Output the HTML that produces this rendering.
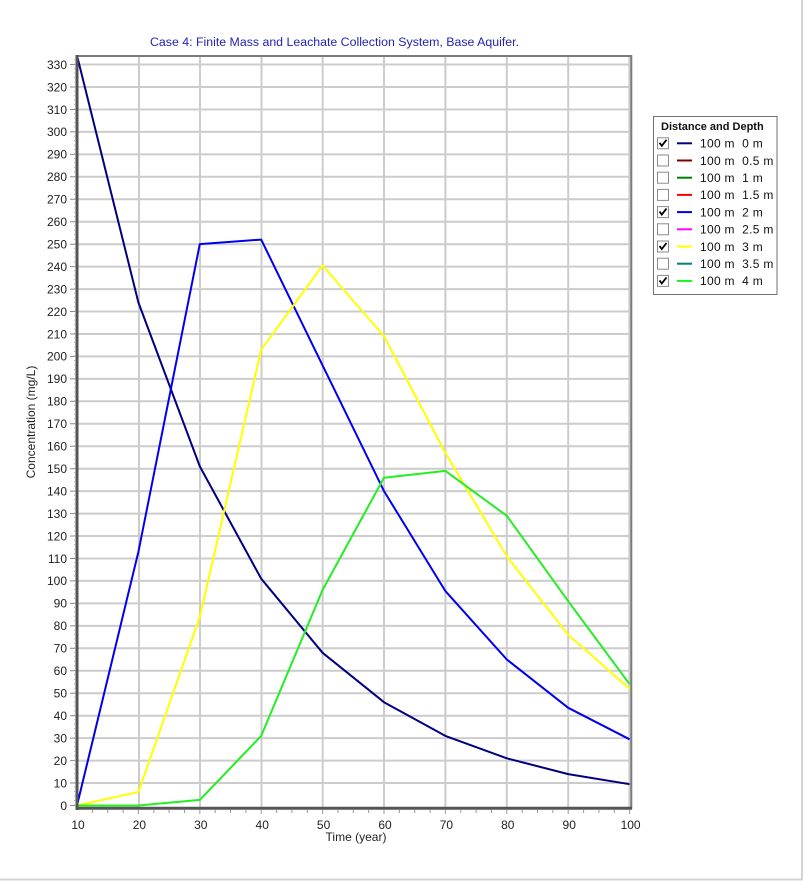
<!DOCTYPE html>
<html><head><meta charset="utf-8"><style>
html,body{margin:0;padding:0;background:#fff;}
svg{display:block;}
text{font-family:"Liberation Sans",Arial,sans-serif;}
</style></head><body>
<svg width="804" height="881" viewBox="0 0 804 881" xmlns="http://www.w3.org/2000/svg">
<rect x="0" y="0" width="804" height="881" fill="#fff"/>
<line x1="802" y1="0" x2="802" y2="880" stroke="#d4d4d4" stroke-width="2"/>
<line x1="0" y1="879.5" x2="803" y2="879.5" stroke="#d4d4d4" stroke-width="2"/>

<text x="150" y="46" font-size="11.5" fill="#2323b4" textLength="369" lengthAdjust="spacingAndGlyphs">Case 4: Finite Mass and Leachate Collection System, Base Aquifer.</text>

<g stroke="#cccccc" stroke-width="2">
<line x1="77" y1="783.0" x2="630" y2="783.0"/>
<line x1="77" y1="760.6" x2="630" y2="760.6"/>
<line x1="77" y1="738.1" x2="630" y2="738.1"/>
<line x1="77" y1="715.7" x2="630" y2="715.7"/>
<line x1="77" y1="693.2" x2="630" y2="693.2"/>
<line x1="77" y1="670.8" x2="630" y2="670.8"/>
<line x1="77" y1="648.3" x2="630" y2="648.3"/>
<line x1="77" y1="625.9" x2="630" y2="625.9"/>
<line x1="77" y1="603.4" x2="630" y2="603.4"/>
<line x1="77" y1="580.9" x2="630" y2="580.9"/>
<line x1="77" y1="558.5" x2="630" y2="558.5"/>
<line x1="77" y1="536.0" x2="630" y2="536.0"/>
<line x1="77" y1="513.6" x2="630" y2="513.6"/>
<line x1="77" y1="491.1" x2="630" y2="491.1"/>
<line x1="77" y1="468.7" x2="630" y2="468.7"/>
<line x1="77" y1="446.2" x2="630" y2="446.2"/>
<line x1="77" y1="423.8" x2="630" y2="423.8"/>
<line x1="77" y1="401.3" x2="630" y2="401.3"/>
<line x1="77" y1="378.9" x2="630" y2="378.9"/>
<line x1="77" y1="356.4" x2="630" y2="356.4"/>
<line x1="77" y1="334.0" x2="630" y2="334.0"/>
<line x1="77" y1="311.5" x2="630" y2="311.5"/>
<line x1="77" y1="289.1" x2="630" y2="289.1"/>
<line x1="77" y1="266.6" x2="630" y2="266.6"/>
<line x1="77" y1="244.2" x2="630" y2="244.2"/>
<line x1="77" y1="221.7" x2="630" y2="221.7"/>
<line x1="77" y1="199.3" x2="630" y2="199.3"/>
<line x1="77" y1="176.8" x2="630" y2="176.8"/>
<line x1="77" y1="154.4" x2="630" y2="154.4"/>
<line x1="77" y1="131.9" x2="630" y2="131.9"/>
<line x1="77" y1="109.5" x2="630" y2="109.5"/>
<line x1="77" y1="87.0" x2="630" y2="87.0"/>
<line x1="77" y1="64.5" x2="630" y2="64.5"/>
<line x1="139" y1="56" x2="139" y2="808"/>
<line x1="200" y1="56" x2="200" y2="808"/>
<line x1="261.5" y1="56" x2="261.5" y2="808"/>
<line x1="322.7" y1="56" x2="322.7" y2="808"/>
<line x1="384" y1="56" x2="384" y2="808"/>
<line x1="445.4" y1="56" x2="445.4" y2="808"/>
<line x1="506.8" y1="56" x2="506.8" y2="808"/>
<line x1="568.2" y1="56" x2="568.2" y2="808"/>
<line x1="629.4" y1="56" x2="629.4" y2="808"/>
</g>

<line x1="76" y1="56" x2="632" y2="56" stroke="#7a7a7a" stroke-width="2"/>
<line x1="631.3" y1="55" x2="631.3" y2="809" stroke="#7a7a7a" stroke-width="2"/>

<g fill="none" stroke-width="2" stroke-linejoin="round">
<polyline stroke="#000080" points="77,55.5 138.4,302.5 199.8,466.4 261.2,578.7 322.6,652.8 384,702.2 445.4,735.9 506.8,758.3 568.2,774.1 629.6,784.2"/>
<polyline stroke="#0000ee" points="77,805.5 138.4,551.8 199.8,244.1 261.2,239.6 322.6,365.4 384,491.1 445.4,591.1 506.8,659.5 568.2,707.8 629.6,739.3"/>
<polyline stroke="#ffff00" points="77,805.5 138.4,792 199.8,616.9 261.2,349.7 322.6,265.5 384,336.2 445.4,453 506.8,556.3 568.2,634.8 629.6,688.7"/>
<polyline stroke="#22ee22" points="77,805.5 138.4,805.5 199.8,799.9 261.2,735.9 322.6,589.9 384,477.7 445.4,470.9 506.8,515.8 568.2,601.2 629.6,684.2"/>
</g>

<line x1="77" y1="55" x2="77" y2="810" stroke="#555555" stroke-width="3"/>
<line x1="75.5" y1="808.3" x2="632" y2="808.3" stroke="#555555" stroke-width="3"/>

<g stroke="#888" stroke-width="1">
<path d="M70 805.5H76M70 783H76M70 760.6H76M70 738.1H76M70 715.7H76M70 693.2H76M70 670.8H76M70 648.3H76M70 625.9H76M70 603.4H76M70 580.9H76M70 558.5H76M70 536H76M70 513.6H76M70 491.1H76M70 468.7H76M70 446.2H76M70 423.8H76M70 401.3H76M70 378.9H76M70 356.4H76M70 334H76M70 311.5H76M70 289.1H76M70 266.6H76M70 244.2H76M70 221.7H76M70 199.3H76M70 176.8H76M70 154.4H76M70 131.9H76M70 109.5H76M70 87H76M70 64.5H76"/>
</g>
<g stroke="#aaa" stroke-width="1" stroke-dasharray="1 3.49">
<line x1="74.5" y1="805.5" x2="74.5" y2="56"/>
</g>
<g stroke="#999" stroke-width="1">
<path d="M92.4 810V813M107.7 810V813M123.1 810V813M138.4 810V814M153.8 810V813M169.1 810V813M184.5 810V813M199.8 810V814M215.2 810V813M230.5 810V813M245.9 810V813M261.2 810V814M276.6 810V813M291.9 810V813M307.3 810V813M322.6 810V814M338 810V813M353.3 810V813M368.7 810V813M384 810V814M399.4 810V813M414.7 810V813M430.1 810V813M445.4 810V814M460.8 810V813M476.1 810V813M491.5 810V813M506.8 810V814M522.2 810V813M537.5 810V813M552.9 810V813M568.2 810V814M583.6 810V813M598.9 810V813M614.3 810V813M629.6 810V814"/>
</g>

<g font-size="12" fill="#222" text-anchor="end">
<text x="67" y="809.8">0</text>
<text x="67" y="787.3">10</text>
<text x="67" y="764.9">20</text>
<text x="67" y="742.4">30</text>
<text x="67" y="720">40</text>
<text x="67" y="697.5">50</text>
<text x="67" y="675.1">60</text>
<text x="67" y="652.6">70</text>
<text x="67" y="630.2">80</text>
<text x="67" y="607.7">90</text>
<text x="67" y="585.2">100</text>
<text x="67" y="562.8">110</text>
<text x="67" y="540.3">120</text>
<text x="67" y="517.9">130</text>
<text x="67" y="495.4">140</text>
<text x="67" y="473">150</text>
<text x="67" y="450.5">160</text>
<text x="67" y="428.1">170</text>
<text x="67" y="405.6">180</text>
<text x="67" y="383.2">190</text>
<text x="67" y="360.7">200</text>
<text x="67" y="338.3">210</text>
<text x="67" y="315.8">220</text>
<text x="67" y="293.4">230</text>
<text x="67" y="270.9">240</text>
<text x="67" y="248.5">250</text>
<text x="67" y="226">260</text>
<text x="67" y="203.6">270</text>
<text x="67" y="181.1">280</text>
<text x="67" y="158.7">290</text>
<text x="67" y="136.2">300</text>
<text x="67" y="113.8">310</text>
<text x="67" y="91.3">320</text>
<text x="67" y="68.8">330</text>
</g>

<g font-size="12" fill="#222" text-anchor="middle">
<text x="78" y="829">10</text>
<text x="139.4" y="829">20</text>
<text x="200.8" y="829">30</text>
<text x="262.2" y="829">40</text>
<text x="323.6" y="829">50</text>
<text x="385" y="829">60</text>
<text x="446.4" y="829">70</text>
<text x="507.8" y="829">80</text>
<text x="569.2" y="829">90</text>
<text x="630.6" y="829">100</text>
</g>

<text x="356" y="841" font-size="12" fill="#222" text-anchor="middle">Time (year)</text>
<text transform="translate(35,422) rotate(-90)" font-size="12" fill="#222" text-anchor="middle">Concentration (mg/L)</text>

<rect x="653.5" y="116.5" width="123.5" height="178" fill="#fff" stroke="#707070" stroke-width="1"/>
<text x="661" y="130" font-size="11" font-weight="bold" fill="#111">Distance and Depth</text>
<g font-size="12" fill="#111" letter-spacing="0.3">
<g transform="translate(0,143.3)">
<rect x="657.5" y="-5.5" width="11" height="11" fill="#fff" stroke="#8a8a8a"/>
<path d="M659.5 -0.5 L661.8 2.5 L666.5 -3.5" fill="none" stroke="#000" stroke-width="1.8"/>
<line x1="677" y1="0" x2="692" y2="0" stroke="#000080" stroke-width="2"/>
<text x="700" y="4.3">100 m&#160; 0 m</text>
</g>
<g transform="translate(0,160.5)">
<rect x="657.5" y="-5.5" width="11" height="11" fill="#fff" stroke="#8a8a8a"/>
<line x1="677" y1="0" x2="692" y2="0" stroke="#800000" stroke-width="2"/>
<text x="700" y="4.3">100 m&#160; 0.5 m</text>
</g>
<g transform="translate(0,177.7)">
<rect x="657.5" y="-5.5" width="11" height="11" fill="#fff" stroke="#8a8a8a"/>
<line x1="677" y1="0" x2="692" y2="0" stroke="#008000" stroke-width="2"/>
<text x="700" y="4.3">100 m&#160; 1 m</text>
</g>
<g transform="translate(0,194.9)">
<rect x="657.5" y="-5.5" width="11" height="11" fill="#fff" stroke="#8a8a8a"/>
<line x1="677" y1="0" x2="692" y2="0" stroke="#ff0000" stroke-width="2"/>
<text x="700" y="4.3">100 m&#160; 1.5 m</text>
</g>
<g transform="translate(0,212.1)">
<rect x="657.5" y="-5.5" width="11" height="11" fill="#fff" stroke="#8a8a8a"/>
<path d="M659.5 -0.5 L661.8 2.5 L666.5 -3.5" fill="none" stroke="#000" stroke-width="1.8"/>
<line x1="677" y1="0" x2="692" y2="0" stroke="#0000ee" stroke-width="2"/>
<text x="700" y="4.3">100 m&#160; 2 m</text>
</g>
<g transform="translate(0,229.3)">
<rect x="657.5" y="-5.5" width="11" height="11" fill="#fff" stroke="#8a8a8a"/>
<line x1="677" y1="0" x2="692" y2="0" stroke="#ff00ff" stroke-width="2"/>
<text x="700" y="4.3">100 m&#160; 2.5 m</text>
</g>
<g transform="translate(0,246.5)">
<rect x="657.5" y="-5.5" width="11" height="11" fill="#fff" stroke="#8a8a8a"/>
<path d="M659.5 -0.5 L661.8 2.5 L666.5 -3.5" fill="none" stroke="#000" stroke-width="1.8"/>
<line x1="677" y1="0" x2="692" y2="0" stroke="#ffff00" stroke-width="2"/>
<text x="700" y="4.3">100 m&#160; 3 m</text>
</g>
<g transform="translate(0,263.7)">
<rect x="657.5" y="-5.5" width="11" height="11" fill="#fff" stroke="#8a8a8a"/>
<line x1="677" y1="0" x2="692" y2="0" stroke="#008080" stroke-width="2"/>
<text x="700" y="4.3">100 m&#160; 3.5 m</text>
</g>
<g transform="translate(0,280.9)">
<rect x="657.5" y="-5.5" width="11" height="11" fill="#fff" stroke="#8a8a8a"/>
<path d="M659.5 -0.5 L661.8 2.5 L666.5 -3.5" fill="none" stroke="#000" stroke-width="1.8"/>
<line x1="677" y1="0" x2="692" y2="0" stroke="#22ee22" stroke-width="2"/>
<text x="700" y="4.3">100 m&#160; 4 m</text>
</g>
</g>
</svg>
</body></html>
